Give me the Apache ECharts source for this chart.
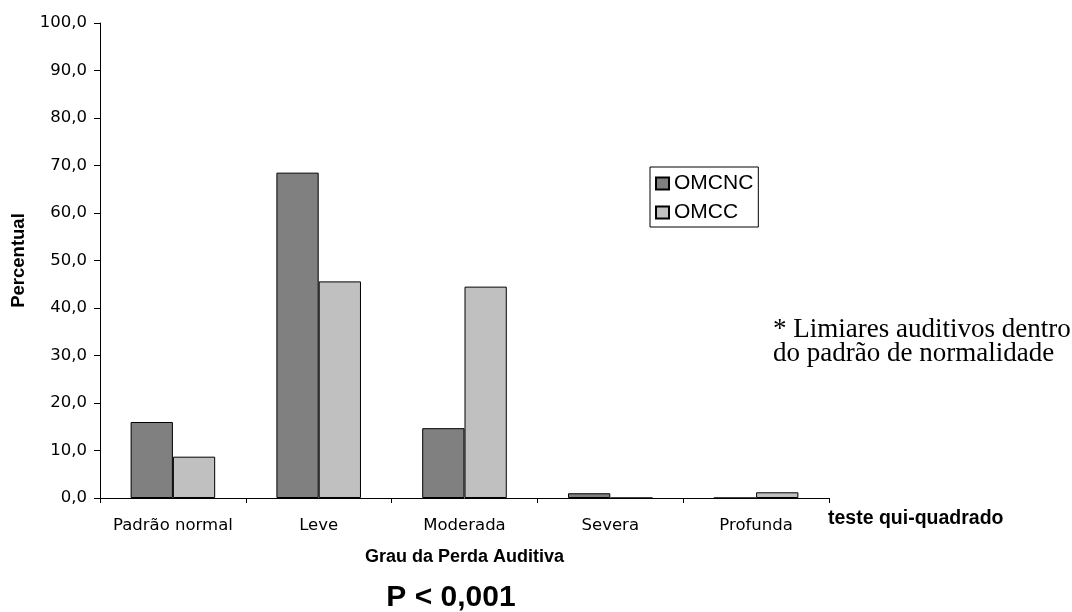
<!DOCTYPE html>
<html>
<head>
<meta charset="utf-8">
<script src="https://cdn.jsdelivr.net/npm/echarts@6/dist/echarts.min.js"></script>
<style>
html,body{margin:0;padding:0;background:#fff;}
#chart{width:1072px;height:612px;}
</style>
</head>
<body>
<div id="chart"></div>
<script>
var categories = ['Padrão normal', 'Leve', 'Moderada', 'Severa', 'Profunda'];
var seriesNames = ['OMCNC', 'OMCC'];
var omcnc = [16.0, 68.5, 14.7, 1.0, 0.0];
var omcc = [8.7, 45.6, 44.5, 0.0, 1.2];
var yMin = 0, yMax = 100, yStep = 10;

var chart = echarts.init(document.getElementById('chart'));
var font = '"Liberation Sans", Arial, sans-serif';
var tickFont = '"DejaVu Sans", Arial, sans-serif';
chart.setOption({
  animation: false,
  backgroundColor: '#ffffff',
  grid: { left: 100, top: 23, right: 243, bottom: 114, containLabel: false },
  legend: {
    orient: 'vertical',
    left: 650, top: 167,
    data: seriesNames,
    icon: 'rect',
    itemWidth: 13, itemHeight: 12, itemGap: 8,
    borderColor: '#000', borderWidth: 1, padding: [6, 5, 4, 5],
    textStyle: { fontFamily: font, fontSize: 21, color: '#000' }
  },
  xAxis: {
    type: 'category',
    data: categories,
    name: 'Grau da Perda Auditiva',
    nameLocation: 'middle',
    nameGap: 50,
    nameTextStyle: { fontFamily: font, fontSize: 18, fontWeight: 'bold', color: '#000' },
    axisLine: { lineStyle: { color: '#000', width: 1 } },
    axisTick: { show: true, length: 5, lineStyle: { color: '#000' } },
    axisLabel: { interval: 0, fontFamily: tickFont, fontSize: 16.5, color: '#000', margin: 19 }
  },
  yAxis: {
    type: 'value',
    min: yMin, max: yMax, interval: yStep,
    name: 'Percentual',
    nameLocation: 'middle',
    nameGap: 70,
    nameTextStyle: { fontFamily: font, fontSize: 18.5, fontWeight: 'bold', color: '#000' },
    axisLine: { show: true, lineStyle: { color: '#000', width: 1 } },
    axisTick: { show: true, length: 6, lineStyle: { color: '#000' } },
    splitLine: { show: false },
    axisLabel: { fontFamily: tickFont, fontSize: 16.5, color: '#000', margin: 13,
      formatter: function (v) { return v.toFixed(1).replace('.', ','); } }
  },
  series: [
    { name: seriesNames[0], type: 'bar', data: omcnc, barGap: '0%', barCategoryGap: '42%',
      itemStyle: { color: '#808080', borderColor: '#000', borderWidth: 1 } },
    { name: seriesNames[1], type: 'bar', data: omcc, barGap: '0%', barCategoryGap: '42%',
      itemStyle: { color: '#c0c0c0', borderColor: '#000', borderWidth: 1 } }
  ],
  graphic: [
    { type: 'text', left: 773, top: 316,
      style: { text: '* Limiares auditivos dentro\ndo padrão de normalidade', font: '27px "Liberation Serif", "Times New Roman", serif', fill: '#000', lineHeight: 24.5 } },
    { type: 'text', left: 828, top: 509,
      style: { text: 'teste qui-quadrado', font: 'bold 19.5px "Liberation Sans", Arial, sans-serif', fill: '#000' } },
    { type: 'text', x: 451, y: 583,
      style: { text: 'P < 0,001', font: 'bold 30px "Liberation Sans", Arial, sans-serif', fill: '#000', align: 'center', verticalAlign: 'top' } }
  ]
});
</script>
</body>
</html>
